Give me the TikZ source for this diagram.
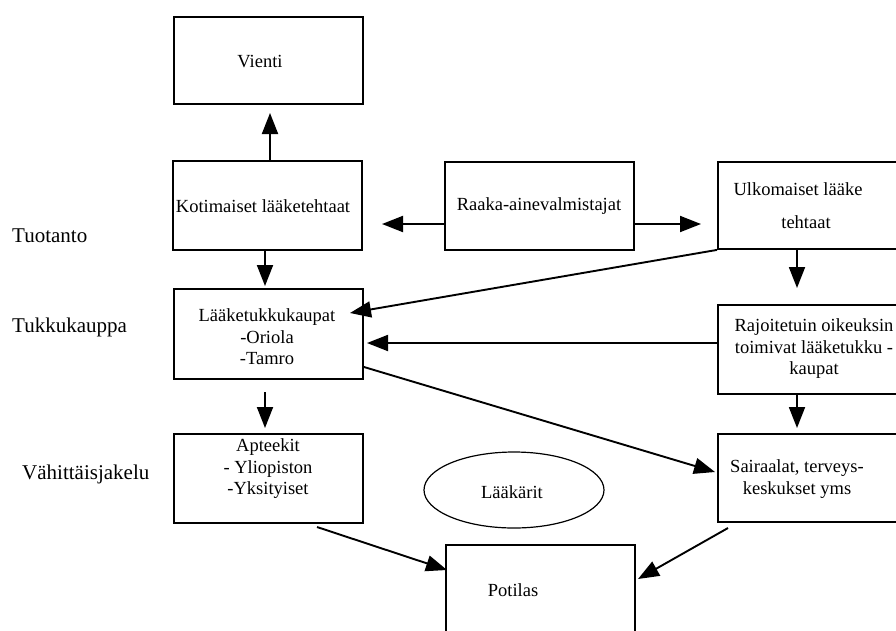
\documentclass[tikz,border=0pt]{standalone}
\usepackage{fontspec}
\setmainfont{Liberation Serif}
\usetikzlibrary{arrows.meta,shapes.geometric}
\begin{document}
\begin{tikzpicture}[x=1pt,y=-1pt,
  box/.style={draw,line width=1.9pt,anchor=north west,inner sep=0pt,
    minimum width=189pt,minimum height=87pt},
  txt/.style={font=\fontsize{18.5}{21.5}\selectfont,align=center,inner sep=0pt},
  side/.style={font=\fontsize{21}{24}\selectfont,anchor=west,inner sep=0pt},
  arr/.style={line width=1.9pt,-{Triangle[length=21pt,width=16pt]}},
  ln/.style={line width=1.9pt}]
\clip (0,0) rectangle (896,630);
\fill[white] (0,0) rectangle (896,630);

% boxes
\node[box,minimum height=87pt] (vie) at (173,16) {};
\node[box,minimum height=89pt] (kot) at (172,160) {};
\node[box,minimum height=88pt] (raa) at (444,161) {};
\node[box,minimum height=87pt] (ulk) at (717,161) {};
\node[box,minimum height=90pt] (luk) at (173,288) {};
\node[box,minimum height=89pt] (raj) at (717,304) {};
\node[box,minimum height=89pt] (apt) at (173,433) {};
\node[box,minimum height=88pt] (sai) at (717,433) {};
\node[box,minimum height=95pt] (pot) at (445,544) {};
\node[draw,line width=1.2pt,ellipse,minimum width=180pt,minimum height=76pt,
  inner sep=0pt] (laa) at (514,490) {};

% texts
\node[txt] (vie-t) at (260,62) {Vienti};
\node[txt] (kot-t) at (263,206) {Kotimaiset lääketehtaat};
\node[txt] (raa-t) at (539,206) {Raaka-ainevalmistajat};
\node[txt] (ulk-t1) at (798,189) {Ulkomaiset lääke};
\node[txt] (ulk-t2) at (806,222) {tehtaat};
\node[txt] (luk-t) at (267,337) {Lääketukkukaupat\\-Oriola\\-Tamro};
\node[txt] (raj-t) at (814,349) {Rajoitetuin oikeuksin\\toimivat lääketukku -\\kaupat};
\node[txt] (apt-t) at (268,469) {Apteekit\\- Yliopiston\\-Yksityiset};
\node[txt] (sai-t) at (797,479) {Sairaalat, terveys-\\keskukset yms};
\node[txt] (laa-t) at (512,492) {Lääkärit};
\node[txt] (pot-t) at (513,590) {Potilas};

% side labels
\node[side] (tuo) at (12,236) {Tuotanto};
\node[side] (tuk) at (12,327) {Tukkukauppa};
\node[side] (vah) at (22,474) {Vähittäisjakelu};

% arrow tips
\coordinate (vie-in) at (270,113);
\coordinate (kot-in) at (382,224);
\coordinate (ulk-in) at (701,224);
\coordinate (luk-in) at (265,286);
\coordinate (luk-in2) at (350,313);
\coordinate (luk-in3) at (367,343);
\coordinate (raj-in) at (797,288);
\coordinate (apt-in) at (265,428);
\coordinate (sai-in) at (715,472);
\coordinate (sai-in2) at (797,428);
\coordinate (pot-in) at (447,570);
\coordinate (pot-in2) at (638,579);
% free line ends
\coordinate (luk-out) at (265,392);
\coordinate (luk-out2) at (364,367);
\coordinate (apt-out) at (317,527);
\coordinate (sai-out) at (728,528);

% connectors
\draw[arr] (kot.north -| vie-in) -- (vie-in);
\draw[arr] (raa.west |- kot-in) -- (kot-in);
\draw[arr] (raa.east |- ulk-in) -- (ulk-in);
\draw[arr] (kot.south -| luk-in) -- (luk-in);
\draw[arr] (ulk.south west) -- (luk-in2);
\draw[arr] (ulk.south -| raj-in) -- (raj-in);
\draw[arr] (raj.west |- luk-in3) -- (luk-in3);
\draw[arr] (luk-out2) -- (sai-in);
\draw[arr] (luk-out) -- (apt-in);
\draw[arr] (raj.south -| sai-in2) -- (sai-in2);
\draw[arr] (apt-out) -- (pot-in);
\draw[arr] (sai-out) -- (pot-in2);
\end{tikzpicture}
\end{document}
